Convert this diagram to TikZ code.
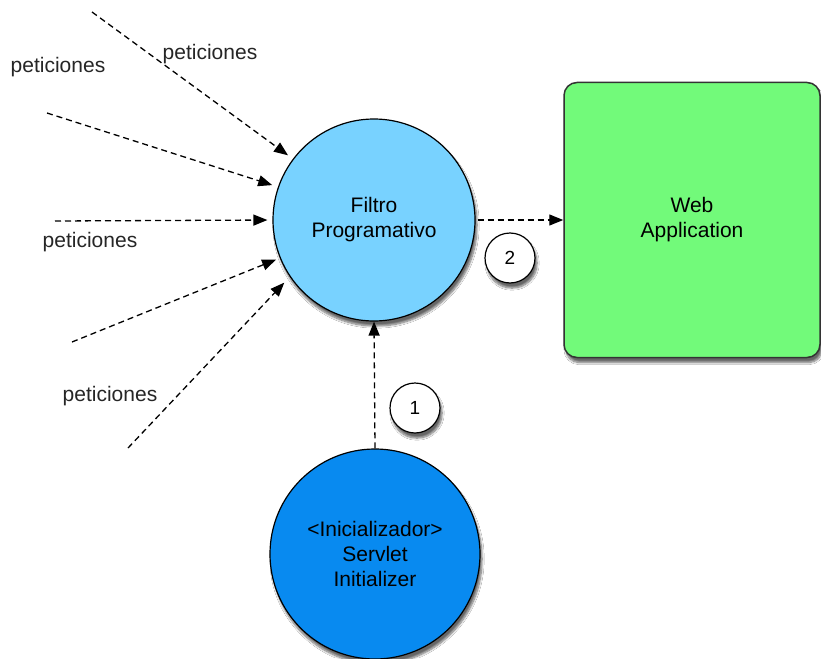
\documentclass[tikz,border=0pt]{standalone}
\usepackage{fontspec}
\setmainfont{Liberation Sans}
\usetikzlibrary{arrows.meta,shadows.blur}
\definecolor{filtroblue}{RGB}{120,210,255}
\definecolor{initblue}{RGB}{8,138,240}
\definecolor{webgreen}{RGB}{114,250,122}
\tikzset{
  shade/.style={blur shadow={shadow xshift=2pt,shadow yshift=-5pt,shadow blur steps=8,shadow blur extra rounding=1pt,shadow opacity=60}},
  bubble/.style={circle,draw=black,line width=1.2pt,minimum size=#1,inner sep=0pt,shade,align=center,font=\fontsize{21}{25}\selectfont},
  badge/.style={circle,draw=black,line width=1.2pt,fill=white,minimum size=50pt,inner sep=0pt,shade,font=\fontsize{19}{22}\selectfont},
  webbox/.style={draw=black!80,line width=1.5pt,rounded corners=13pt,fill=webgreen,shade,align=center,font=\fontsize{21}{25}\selectfont},
  req/.style={dashed,dash pattern=on 6pt off 4pt,line width=1.3pt,-{Triangle[length=14pt,width=11pt]}},
  lbl/.style={font=\fontsize{21}{25}\selectfont,text=black!85}
}
\begin{document}
\begin{tikzpicture}[x=1pt,y=-1pt]
  \fill[white] (0,0) rectangle (821,658);
  \useasboundingbox (0,0) rectangle (821,658);

  % main nodes
  \node[webbox,minimum width=256pt,minimum height=275pt] (web) at (692,220) {Web\\Application};
  \node[bubble=202pt,fill=filtroblue] (filtro) at (374,220) {Filtro\\Programativo};
  \node[bubble=210pt,fill=initblue] (init) at (375,554) {\textless Inicializador\textgreater\\Servlet\\Initializer};

  % step badges
  \node[badge] (b2) at (510,258) {2};
  \node[badge] (b1) at (415,408) {1};

  % free ends of the incoming requests
  \coordinate (r1) at (92,12);
  \coordinate (r2) at (47,113);
  \coordinate (r3) at (55,221);
  \coordinate (r4) at (72,342);
  \coordinate (r5) at (128,448);

  \draw[req,shorten >=6pt] (r1) -- (filtro.{143});
  \draw[req,shorten >=6pt] (r2) -- (filtro.{161});
  \draw[req,shorten >=5pt] (r3) -- (filtro.west);
  \draw[req,shorten >=4pt] (r4) -- (filtro.{-158});
  \draw[req,shorten >=8pt] (r5) -- (filtro.{-146});

  % flow between components
  \draw[req] (init.north) -- (filtro.south);
  \draw[req,shorten <=2pt] (filtro.east) -- (web.west |- filtro.east);

  % labels
  \node[lbl] (p1) at (210,54) {peticiones};
  \node[lbl] (p2) at (58,67) {peticiones};
  \node[lbl] (p3) at (90,242) {peticiones};
  \node[lbl] (p4) at (110,396) {peticiones};
\end{tikzpicture}
\end{document}
